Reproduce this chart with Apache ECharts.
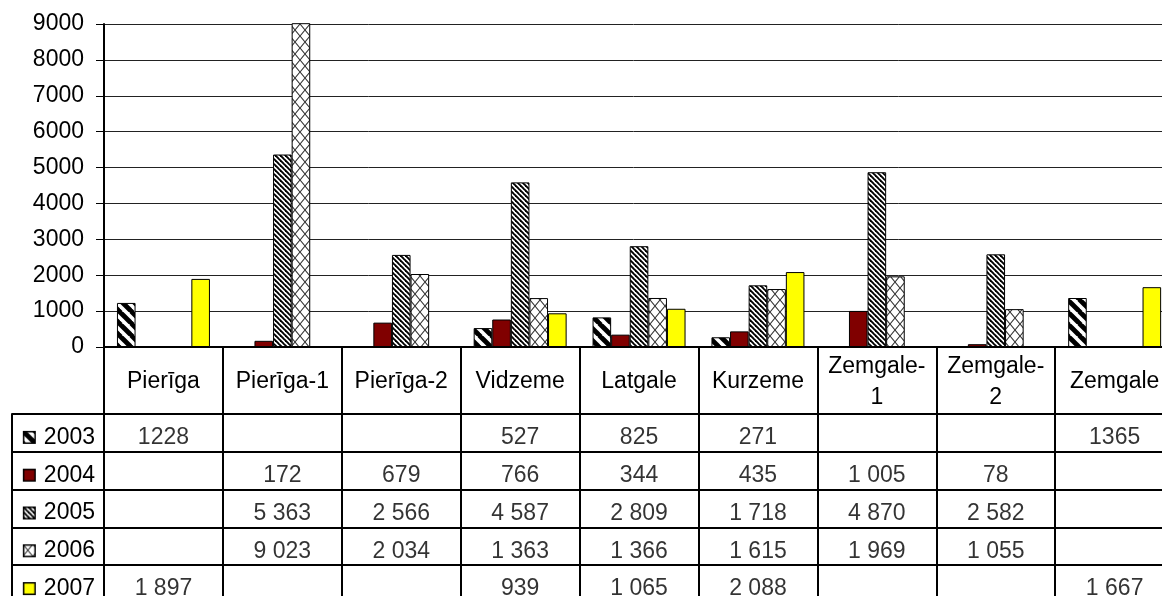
<!DOCTYPE html>
<html>
<head>
<meta charset="utf-8">
<script src="https://cdn.jsdelivr.net/npm/echarts@6/dist/echarts.min.js"></script>
<style>
html, body { margin: 0; padding: 0; background: #fff; }
#chart { width: 1162px; height: 596px; }
</style>
</head>
<body>
<div id="chart"></div>
<script>
// categories (regions) and years
var categories = ["Pierīga", "Pierīga-1", "Pierīga-2", "Vidzeme", "Latgale", "Kurzeme", "Zemgale-1", "Zemgale-2", "Zemgale"];
var years = ["2003", "2004", "2005", "2006", "2007"];

// table texts as printed, one array per year ("" = empty cell)
var t2003 = ["1228", "", "", "527", "825", "271", "", "", "1365"];
var t2004 = ["", "172", "679", "766", "344", "435", "1 005", "78", ""];
var t2005 = ["", "5 363", "2 566", "4 587", "2 809", "1 718", "4 870", "2 582", ""];
var t2006 = ["", "9 023", "2 034", "1 363", "1 366", "1 615", "1 969", "1 055", ""];
var t2007 = ["1 897", "", "", "939", "1 065", "2 088", "", "", "1 667"];

var yTicks = [0, 1000, 2000, 3000, 4000, 5000, 6000, 7000, 8000, 9000];

var tables = [t2003, t2004, t2005, t2006, t2007];

function num(s) {
    return s === "" ? null : Number(s.replace(/\s/g, ""));
}

var font = "'Liberation Sans', Arial, sans-serif";
var fs = 23;

// fill patterns
function stripes(size, width, color) {
    var c = document.createElement("canvas");
    c.width = size;
    c.height = size;
    var ctx = c.getContext("2d");
    ctx.fillStyle = "#fff";
    ctx.fillRect(0, 0, size, size);
    ctx.strokeStyle = color;
    ctx.lineWidth = width;
    for (var k = -size; k <= size; k += size) {
        ctx.beginPath();
        ctx.moveTo(k - 1, -1);
        ctx.lineTo(k + size + 1, size + 1);
        ctx.stroke();
    }
    return c;
}

function cross(w, h) {
    var c = document.createElement("canvas");
    c.width = w;
    c.height = h;
    var ctx = c.getContext("2d");
    ctx.fillStyle = "#fff";
    ctx.fillRect(0, 0, w, h);
    ctx.strokeStyle = "#333";
    ctx.lineWidth = 1.1;
    ctx.beginPath();
    ctx.moveTo(0, 0);
    ctx.lineTo(w, h);
    ctx.moveTo(w, 0);
    ctx.lineTo(0, h);
    ctx.stroke();
    return c;
}

function solid(color) {
    var c = document.createElement("canvas");
    c.width = 4;
    c.height = 4;
    var ctx = c.getContext("2d");
    ctx.fillStyle = color;
    ctx.fillRect(0, 0, 4, 4);
    return c;
}

var patterns = [
    stripes(12, 4.8, "#000"),
    solid("#800000"),
    stripes(5, 1.9, "#000"),
    cross(10, 12),
    solid("#ffff00")
];

var fills = [
    { image: patterns[0], repeat: "repeat" },
    "#800000",
    { image: patterns[2], repeat: "repeat" },
    { image: patterns[3], repeat: "repeat" },
    "#ffff00"
];

function icon(p) {
    var c = document.createElement("canvas");
    c.width = 13;
    c.height = 13;
    var ctx = c.getContext("2d");
    ctx.fillStyle = ctx.createPattern(p, "repeat");
    ctx.fillRect(0, 0, 13, 13);
    ctx.strokeStyle = "#000";
    ctx.lineWidth = 1.5;
    ctx.strokeRect(0.75, 0.75, 11.5, 11.5);
    return c;
}

var rich = {
    t: { fontSize: fs, fontFamily: font, color: "#000", padding: [0, 0, 0, 8] }
};
years.forEach(function(y, i) {
    rich["i" + i] = { width: 13, height: 13, backgroundColor: { image: icon(patterns[i]) } };
});

var catW = 118.9;
var plotLeft = 104;

var barSeries = years.map(function(y, i) {
    return {
        name: y,
        type: "bar",
        xAxisIndex: 0,
        yAxisIndex: 0,
        data: tables[i].map(num),
        barGap: 0,
        barCategoryGap: "21.8%",
        clip: false,
        itemStyle: {
            color: fills[i],
            borderColor: "#000",
            borderWidth: 1
        }
    };
});

var cells = [];
tables.forEach(function(row, yi) {
    row.forEach(function(s, ci) {
        if (s !== "") cells.push([ci, yi, s]);
    });
});

var chart = echarts.init(document.getElementById("chart"));
var option = {
    backgroundColor: "#fff",
    animation: false,
    grid: [
        { left: plotLeft, top: 24, width: catW * 9, height: 323, outerBoundsMode: "none" },
        { left: plotLeft, top: 414, width: catW * 9, height: 37.8 * 5, outerBoundsMode: "none" }
    ],
    xAxis: [
        {
            type: "category",
            gridIndex: 0,
            data: categories,
            axisLine: { lineStyle: { color: "#000", width: 2 } },
            axisTick: { show: true, length: 67, inside: false, interval: 0, lineStyle: { color: "#000", width: 2 } },
            axisLabel: {
                interval: 0,
                margin: 35,
                verticalAlign: "middle",
                fontSize: fs,
                lineHeight: 31,
                fontFamily: font,
                color: "#000",
                formatter: function(v) {
                    return v.indexOf("Zemgale-") === 0 ? v.replace("-", "-\n") : v;
                }
            },
            splitLine: { show: false }
        },
        {
            type: "category",
            gridIndex: 1,
            position: "top",
            data: categories,
            axisLine: { show: true, lineStyle: { color: "#000", width: 2 } },
            axisTick: { show: false },
            axisLabel: { show: false },
            splitLine: { show: true, interval: 0, lineStyle: { color: "#000", width: 2 } }
        }
    ],
    yAxis: [
        {
            type: "value",
            gridIndex: 0,
            min: yTicks[0],
            max: yTicks[yTicks.length - 1],
            interval: 1000,
            axisLine: { show: true, lineStyle: { color: "#000", width: 2 } },
            axisTick: { show: true, length: 8, lineStyle: { color: "#000", width: 1 } },
            axisLabel: {
                fontSize: fs,
                margin: 20,
                color: "#000",
                fontFamily: font,
                formatter: function(v) {
                    return String(v);
                }
            },
            splitLine: { show: true, lineStyle: { color: "#222", width: 1 } }
        },
        {
            type: "category",
            gridIndex: 1,
            inverse: true,
            data: years,
            axisLine: { show: true, lineStyle: { color: "#000", width: 2 } },
            axisTick: { show: true, length: 92, inside: false, lineStyle: { color: "#000", width: 2 } },
            axisLabel: {
                margin: 9,
                padding: [9, 0, 0, 0],
                rich: rich,
                formatter: function(v, i) {
                    return "{i" + i + "|}{t|" + v + "}";
                }
            },
            splitLine: { show: true, lineStyle: { color: "#000", width: 2 } }
        },
        {
            type: "value",
            gridIndex: 1,
            position: "left",
            offset: 92,
            axisLine: { show: true, lineStyle: { color: "#000", width: 2 } },
            axisTick: { show: false },
            axisLabel: { show: false },
            splitLine: { show: false }
        }
    ],
    series: barSeries.concat([
        {
            type: "scatter",
            xAxisIndex: 1,
            yAxisIndex: 1,
            data: cells,
            symbol: "rect",
            symbolSize: 1,
            itemStyle: { color: "rgba(0,0,0,0)" },
            label: {
                show: true,
                position: "inside",
                fontSize: fs,
                fontFamily: font,
                color: "#000",
                offset: [0, 5],
                formatter: function(p) {
                    return p.value[2];
                }
            },
            silent: true
        }
    ])
};
chart.setOption(option);
</script>
</body>
</html>
